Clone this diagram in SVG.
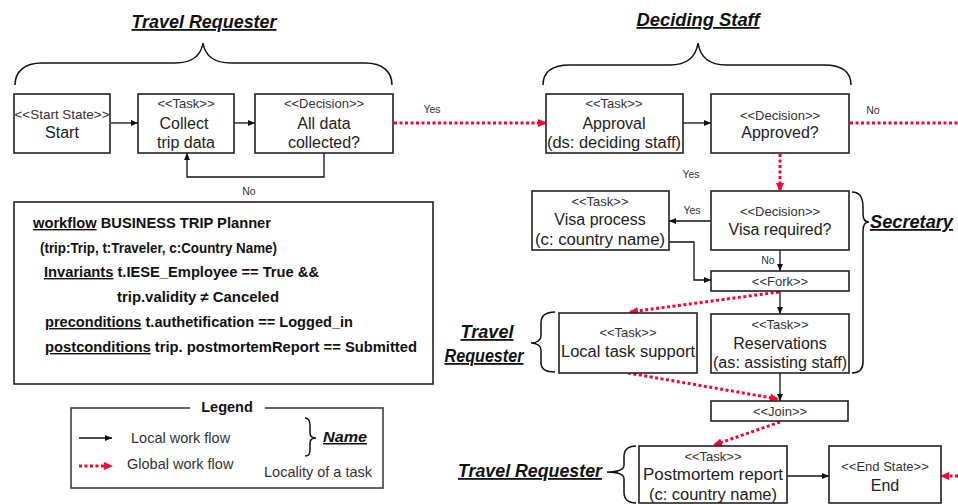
<svg xmlns="http://www.w3.org/2000/svg" width="958" height="504" viewBox="0 0 958 504">
  <style>
    .box { fill: #fff; stroke: #222; stroke-width: 1.6; }
    .st { font-family: "Liberation Sans", Arial, sans-serif; font-size: 13px; fill: #333; text-anchor: middle; }
    .lb { font-family: "Liberation Sans", Arial, sans-serif; font-size: 16px; fill: #222; text-anchor: middle; }
    .sm { font-family: "Liberation Sans", Arial, sans-serif; font-size: 10.5px; fill: #333; }
    .role { font-family: "Liberation Sans", Arial, sans-serif; font-size: 18px; font-weight: bold; font-style: italic; fill: #111; text-decoration: underline; }
    .wf { font-family: "Liberation Sans", Arial, sans-serif; font-size: 14px; font-weight: bold; fill: #111; }
    .u { text-decoration: underline; }
    .lg { font-family: "Liberation Sans", Arial, sans-serif; font-size: 14.5px; fill: #333; }
    .loc { fill: none; stroke: #111; stroke-width: 1.3; }
    .glob { fill: none; stroke: #ff0033; stroke-width: 3; stroke-dasharray: 3 2.5; }
    .brace { fill: none; stroke: #111; stroke-width: 1.5; }
  </style>
  <defs>
    <marker id="arr" markerUnits="userSpaceOnUse" markerWidth="8" markerHeight="6" refX="7" refY="3" orient="auto">
      <path d="M0,0 L7,3 L0,6 z" fill="#111"/>
    </marker>
    <marker id="rarr" markerUnits="userSpaceOnUse" markerWidth="10" markerHeight="8" refX="8" refY="4" orient="auto">
      <path d="M0,0 L9,4 L0,8 z" fill="#ff0033"/>
    </marker>
  </defs>

  <!-- role titles and braces -->
  <g id="role-travel-requester-top">
    <text class="role" x="204" y="28" text-anchor="middle" textLength="145" lengthAdjust="spacingAndGlyphs">Travel Requester</text>
    <path class="brace" d="M15,85 C15,72 24,63 42,63 L175,63 C193,63 201,55 203,43 C205,55 213,63 231,63 L365,63 C383,63 392,72 392,85"/>
  </g>
  <g id="role-deciding-staff">
    <text class="role" x="698" y="26" text-anchor="middle" textLength="123" lengthAdjust="spacingAndGlyphs">Deciding Staff</text>
    <path class="brace" d="M543,85 C543,72 552,65 570,65 L670,65 C688,65 696,56 698,43 C700,56 708,65 726,65 L824,65 C842,65 851,72 851,85"/>
  </g>
  <g id="role-secretary">
    <path class="brace" d="M852,192 C860,192 863,198 863,207 L863,214 C863,219 865,222 869,222 C865,222 863,225 863,231 L863,362 C863,369 860,373 852,373"/>
    <text class="role" x="870" y="228" textLength="83" lengthAdjust="spacingAndGlyphs">Secretary</text>
  </g>
  <g id="role-travel-requester-mid">
    <text class="role" x="487" y="338" text-anchor="middle" textLength="53" lengthAdjust="spacingAndGlyphs">Travel</text>
    <text class="role" x="484" y="362" text-anchor="middle" textLength="79" lengthAdjust="spacingAndGlyphs">Requester</text>
    <path class="brace" d="M555,312 C546,312 541,316 541,323 L541,336 C541,340 537,343 531,343 C537,343 541,346 541,350 L541,363 C541,369 546,372 555,372"/>
  </g>
  <g id="role-travel-requester-bottom">
    <text class="role" x="458" y="477" textLength="144" lengthAdjust="spacingAndGlyphs">Travel Requester</text>
    <path class="brace" d="M636,446 C628,446 624,450 624,457 L624,465 C624,469 621,472 607,472 C621,472 624,475 624,479 L624,492 C624,499 628,503 636,503"/>
  </g>

  <!-- connectors -->
  <g id="connectors">
    <path class="loc" d="M111,123 L138,123" marker-end="url(#arr)"/>
    <path class="loc" d="M234,123 L255,123" marker-end="url(#arr)"/>
    <path class="loc" d="M324,153 L324,177 L187,177 L187,153" marker-end="url(#arr)"/>
    <path class="glob" d="M394,123 L546,123" marker-end="url(#rarr)"/>
    <path class="loc" d="M683,123 L711,123" marker-end="url(#arr)"/>
    <path class="glob" d="M850,123 L958,123"/>
    <path class="glob" d="M780,154 L780,191" marker-end="url(#rarr)"/>
    <path class="loc" d="M711,221 L669,221" marker-end="url(#arr)"/>
    <path class="loc" d="M669,242 L694,242 L694,280 L711,280" marker-end="url(#arr)"/>
    <path class="loc" d="M780,250 L780,271" marker-end="url(#arr)"/>
    <path class="loc" d="M780,291 L780,314" marker-end="url(#arr)"/>
    <path class="glob" d="M779,292 L630,312" marker-end="url(#rarr)"/>
    <path class="loc" d="M780,373 L780,401" marker-end="url(#arr)"/>
    <path class="glob" d="M628,373 L778,399" marker-end="url(#rarr)"/>
    <path class="glob" d="M780,422 L714,445" marker-end="url(#rarr)"/>
    <path class="loc" d="M787,476 L829,476" marker-end="url(#arr)"/>
    <path class="glob" d="M958,476 L941,476" marker-end="url(#rarr)"/>
    <text class="sm" x="432" y="113" text-anchor="middle">Yes</text>
    <text class="sm" x="249" y="195" text-anchor="middle">No</text>
    <text class="sm" x="873" y="114" text-anchor="middle">No</text>
    <text class="sm" x="691" y="178" text-anchor="middle">Yes</text>
    <text class="sm" x="692" y="214" text-anchor="middle">Yes</text>
    <text class="sm" x="768" y="264" text-anchor="middle">No</text>
  </g>

  <!-- nodes -->
  <g id="start">
    <rect class="box" x="14" y="94" width="96" height="59"/>
    <text class="st" x="62" y="119" textLength="95" lengthAdjust="spacingAndGlyphs">&lt;&lt;Start State&gt;&gt;</text>
    <text class="lb" x="62" y="138">Start</text>
  </g>
  <g id="collect">
    <rect class="box" x="138" y="94" width="96" height="59"/>
    <text class="st" x="186" y="108">&lt;&lt;Task&gt;&gt;</text>
    <text class="lb" x="184" y="129">Collect</text>
    <text class="lb" x="186" y="148">trip data</text>
  </g>
  <g id="all-data">
    <rect class="box" x="255" y="94" width="138" height="59"/>
    <text class="st" x="324" y="108">&lt;&lt;Decision&gt;&gt;</text>
    <text class="lb" x="324" y="129">All data</text>
    <text class="lb" x="324" y="148">collected?</text>
  </g>
  <g id="approval">
    <rect class="box" x="546" y="94" width="137" height="59"/>
    <text class="st" x="614" y="108">&lt;&lt;Task&gt;&gt;</text>
    <text class="lb" x="614" y="129">Approval</text>
    <text class="lb" x="614" y="148" textLength="134" lengthAdjust="spacingAndGlyphs">(ds: deciding staff)</text>
  </g>
  <g id="approved">
    <rect class="box" x="711" y="94" width="138" height="59"/>
    <text class="st" x="780" y="120">&lt;&lt;Decision&gt;&gt;</text>
    <text class="lb" x="780" y="138">Approved?</text>
  </g>
  <g id="visa-required">
    <rect class="box" x="711" y="191" width="138" height="59"/>
    <text class="st" x="780" y="216">&lt;&lt;Decision&gt;&gt;</text>
    <text class="lb" x="780" y="235">Visa required?</text>
  </g>
  <g id="visa-process">
    <rect class="box" x="532" y="191" width="137" height="59"/>
    <text class="st" x="600" y="206">&lt;&lt;Task&gt;&gt;</text>
    <text class="lb" x="600" y="225">Visa process</text>
    <text class="lb" x="600" y="245" textLength="130" lengthAdjust="spacingAndGlyphs">(c: country name)</text>
  </g>
  <g id="fork">
    <rect class="box" x="711" y="271" width="138" height="20"/>
    <text class="st" x="780" y="286">&lt;&lt;Fork&gt;&gt;</text>
  </g>
  <g id="local-task-support">
    <rect class="box" x="559" y="313" width="138" height="60"/>
    <text class="st" x="628" y="337">&lt;&lt;Task&gt;&gt;</text>
    <text class="lb" x="628" y="357" textLength="134" lengthAdjust="spacingAndGlyphs">Local task support</text>
  </g>
  <g id="reservations">
    <rect class="box" x="711" y="314" width="138" height="59"/>
    <text class="st" x="780" y="329">&lt;&lt;Task&gt;&gt;</text>
    <text class="lb" x="780" y="349">Reservations</text>
    <text class="lb" x="780" y="368" textLength="134" lengthAdjust="spacingAndGlyphs">(as: assisting staff)</text>
  </g>
  <g id="join">
    <rect class="box" x="711" y="401" width="137" height="20"/>
    <text class="st" x="780" y="416">&lt;&lt;Join&gt;&gt;</text>
  </g>
  <g id="postmortem">
    <rect class="box" x="639" y="446" width="148" height="57"/>
    <text class="st" x="713" y="461">&lt;&lt;Task&gt;&gt;</text>
    <text class="lb" x="713" y="480" textLength="140" lengthAdjust="spacingAndGlyphs">Postmortem report</text>
    <text class="lb" x="713" y="500" textLength="128" lengthAdjust="spacingAndGlyphs">(c: country name)</text>
  </g>
  <g id="end">
    <rect class="box" x="829" y="446" width="112" height="57"/>
    <text class="st" x="885" y="471">&lt;&lt;End State&gt;&gt;</text>
    <text class="lb" x="885" y="491">End</text>
  </g>

  <!-- workflow specification -->
  <g id="workflow-spec">
    <rect class="box" x="14" y="202" width="419" height="182"/>
    <text class="wf" x="33" y="228" textLength="238" lengthAdjust="spacingAndGlyphs"><tspan class="u">workflow</tspan> BUSINESS TRIP Planner</text>
    <text class="wf" x="40" y="253" textLength="237" lengthAdjust="spacingAndGlyphs">(trip:Trip, t:Traveler, c:Country Name)</text>
    <text class="wf" x="44" y="277" textLength="275" lengthAdjust="spacingAndGlyphs"><tspan class="u">Invariants</tspan> t.IESE_Employee == True &amp;&amp;</text>
    <text class="wf" x="117" y="302" textLength="162" lengthAdjust="spacingAndGlyphs">trip.validity ≠ Canceled</text>
    <text class="wf" x="45" y="327" textLength="308" lengthAdjust="spacingAndGlyphs"><tspan class="u">preconditions</tspan> t.authetification == Logged_in</text>
    <text class="wf" x="45" y="352" textLength="372" lengthAdjust="spacingAndGlyphs"><tspan class="u">postconditions</tspan> trip. postmortemReport  == Submitted</text>
  </g>

  <!-- legend -->
  <g id="legend">
    <path d="M190,408 L71,408 L71,488 L383,488 L383,408 L265,408" fill="none" stroke="#333" stroke-width="1.5"/>
    <text x="227" y="412" text-anchor="middle" font-family="'Liberation Sans', Arial, sans-serif" font-size="14.5" font-weight="bold" fill="#111">Legend</text>
    <path class="loc" d="M79,438 L112,438" marker-end="url(#arr)"/>
    <text class="lg" x="131" y="443">Local work flow</text>
    <path class="glob" d="M79,466 L112,466" marker-end="url(#rarr)"/>
    <text class="lg" x="127" y="469">Global work flow</text>
    <path class="brace" d="M305,418 C309,418 310,421 310,426 L310,433 C310,436 312,438 316,438 C312,438 310,440 310,443 L310,449 C310,454 309,456 305,456"/>
    <text x="323" y="442" font-family="'Liberation Sans', Arial, sans-serif" font-size="15" font-weight="bold" font-style="italic" fill="#111" text-decoration="underline" textLength="44" lengthAdjust="spacingAndGlyphs">Name</text>
    <text class="lg" x="264" y="477">Locality of a task</text>
  </g>
</svg>
